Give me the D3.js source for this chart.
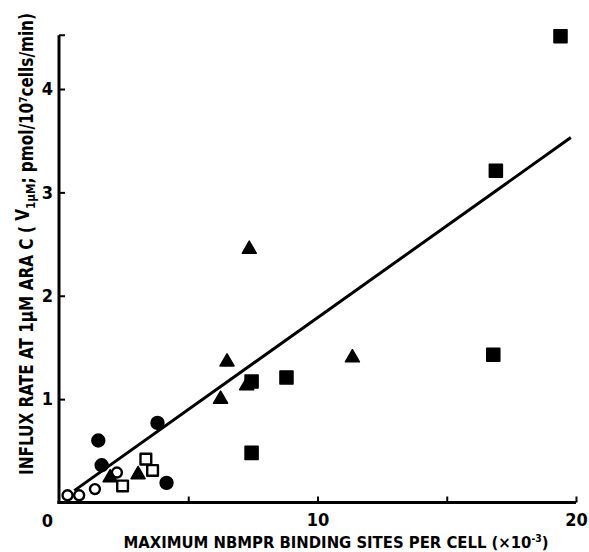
<!DOCTYPE html>
<html><head><meta charset="utf-8">
<script src="https://cdn.jsdelivr.net/npm/d3@7"></script>
<style>
html,body{margin:0;padding:0;background:#fff;}
text{font-family:"DejaVu Sans Condensed","DejaVu Sans",sans-serif;font-weight:bold;fill:#000;}
</style></head>
<body><svg id="c" width="589" height="552"></svg>
<script>
// Data (x: binding sites per cell ×10^-3, y: influx rate)
const filledSquares = [[19.4,4.51],[16.9,3.21],[16.8,1.43],[8.8,1.21],[7.45,1.17],[7.45,0.48]];
const filledTriangles = [[7.36,2.45],[6.5,1.36],[11.35,1.40],[6.25,1.0],[7.26,1.13],[3.06,0.27],[1.98,0.24]];
const filledCircles = [[1.52,0.60],[1.65,0.36],[3.81,0.77],[4.16,0.19]];
const openCircles = [[0.33,0.07],[0.78,0.07],[1.39,0.13],[2.24,0.29]];
const openSquares = [[3.36,0.42],[3.62,0.31],[2.46,0.16]];
const fitLine = [[0.59,0.115],[19.8,3.53]];
const xTicks = [5,10,15,20];
const xTickLabels = {10:"10",20:"20"};
const yTicks = [1,2,3,4];

const svg = d3.select("#c");
const x = d3.scaleLinear().domain([0,20]).range([59,576]);
const y = d3.scaleLinear().domain([0,4]).range([502.5,89]);

// axes
const xAxis = d3.axisBottom(x).tickValues(xTicks).tickSizeInner(-6).tickSizeOuter(0).tickPadding(11)
  .tickFormat(d=>xTickLabels[d]||"");
const gx = svg.append("g").attr("transform",`translate(0,${y(0)})`).call(xAxis);
gx.select(".domain").remove();
gx.selectAll("line").attr("stroke","#000").attr("stroke-width",2);
gx.selectAll("text").attr("font-size",18).attr("font-family","DejaVu Sans Condensed, sans-serif").attr("font-weight","bold");

const yAxis = d3.axisLeft(y).tickValues(yTicks).tickSizeInner(-6).tickSizeOuter(0).tickPadding(6)
  .tickFormat(d3.format("d"));
const gy = svg.append("g").attr("transform",`translate(${x(0)},0)`).call(yAxis);
gy.select(".domain").remove();
gy.selectAll("line").attr("stroke","#000").attr("stroke-width",2);
gy.selectAll("text").attr("font-size",18).attr("font-family","DejaVu Sans Condensed, sans-serif").attr("font-weight","bold");

// axis lines
svg.append("line").attr("x1",x(0)).attr("x2",x(0)).attr("y1",y(4.52)).attr("y2",y(0)+1.5)
  .attr("stroke","#000").attr("stroke-width",3);
svg.append("line").attr("x1",x(0)-1.5).attr("x2",x(20)).attr("y1",y(0)).attr("y2",y(0))
  .attr("stroke","#000").attr("stroke-width",3);
svg.append("line").attr("x1",x(0)).attr("x2",x(0)+6).attr("y1",y(4.52)).attr("y2",y(4.52))
  .attr("stroke","#000").attr("stroke-width",2);

// corner zero
svg.append("text").attr("x",47.5).attr("y",527).attr("text-anchor","middle").attr("font-size",18).text("0");

// titles
svg.append("text").attr("x",336).attr("y",548).attr("text-anchor","middle").attr("font-size",16)
  .attr("textLength",425).attr("lengthAdjust","spacingAndGlyphs")
  .html('MAXIMUM  NBMPR  BINDING SITES PER CELL (×10<tspan dy="-6" font-size="10">-3</tspan><tspan dy="6">)</tspan>');
svg.append("text").attr("transform","translate(33,244) rotate(-90)").attr("text-anchor","middle").attr("font-size",19)
  .attr("textLength",462).attr("lengthAdjust","spacingAndGlyphs")
  .html('INFLUX RATE AT 1μM ARA C ( <tspan dy="-4">V</tspan><tspan dy="6" font-size="13">1μM</tspan><tspan dy="-2">; pmol/10</tspan><tspan dy="-6" font-size="11">7</tspan><tspan dy="6">cells/min)</tspan>');

// fit line
svg.append("line").attr("x1",x(fitLine[0][0])).attr("y1",y(fitLine[0][1]))
  .attr("x2",x(fitLine[1][0])).attr("y2",y(fitLine[1][1]))
  .attr("stroke","#000").attr("stroke-width",3);

function draw(data, type, size, filled){
  svg.append("g").selectAll("path").data(data).join("path")
    .attr("transform",d=>`translate(${x(d[0])},${y(d[1])})`)
    .attr("d",d3.symbol().type(type).size(size))
    .attr("fill",filled?"#000":"#fff")
    .attr("stroke","#000")
    .attr("stroke-width",filled?1.5:2.4)
    .attr("stroke-linejoin","round");
}
draw(openCircles, d3.symbolCircle, 78, false);
draw(openSquares, d3.symbolSquare, 115, false);
draw(filledCircles, d3.symbolCircle, 130, true);
draw(filledTriangles, d3.symbolTriangle, 85, true);
draw(filledSquares, d3.symbolSquare, 170, true);
</script></body></html>
